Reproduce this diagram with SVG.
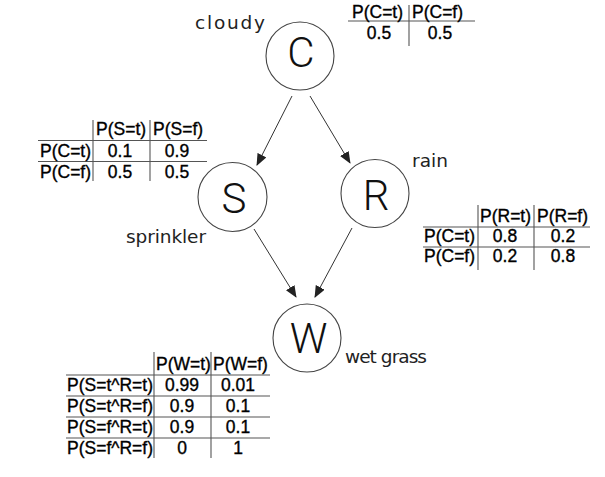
<svg xmlns="http://www.w3.org/2000/svg" width="605" height="477" viewBox="0 0 605 477">
<defs>
<marker id="ah" markerWidth="12" markerHeight="10" refX="11" refY="5" orient="auto" markerUnits="userSpaceOnUse">
<path d="M0,0 L12,5 L0,10 z" fill="#222"/>
</marker>
<style>
.node circle{fill:#fff;stroke:#444;stroke-width:1.1}
.letter{font-family:"Roboto","Liberation Sans",sans-serif;font-weight:300;font-size:42px;fill:#111;text-anchor:middle}
.lbl{font-family:"DejaVu Sans",sans-serif;font-size:18.5px;fill:#222}
.t{font-family:"Liberation Sans",Arial,sans-serif;font-size:17.5px;fill:#000;stroke:#000;stroke-width:0.35}
.v{font-family:"Liberation Sans",Arial,sans-serif;font-size:17.5px;fill:#000;stroke:#000;stroke-width:0.35;text-anchor:middle}
.g line{stroke:#555;stroke-width:1.1}
.edges line{stroke:#333;stroke-width:1;marker-end:url(#ah)}
</style>
</defs>
<rect width="605" height="477" fill="#fff"/>

<g class="edges" id="edges">
<line x1="292" y1="96" x2="257" y2="165"/>
<line x1="310" y1="96" x2="350" y2="163"/>
<line x1="254" y1="229" x2="296" y2="297"/>
<line x1="352" y1="228" x2="315" y2="297"/>
</g>

<g class="node" id="node-C">
<circle cx="300" cy="56" r="34"/>
<text class="letter" x="301" y="67">C</text>
<text class="lbl" x="195" y="29" textLength="70" lengthAdjust="spacing">cloudy</text>
</g>
<g class="node" id="node-S">
<circle cx="232.5" cy="197" r="34.5"/>
<text class="letter" x="234" y="213">S</text>
<text class="lbl" x="126" y="243" textLength="80" lengthAdjust="spacing">sprinkler</text>
</g>
<g class="node" id="node-R">
<circle cx="375" cy="193.5" r="34"/>
<text class="letter" x="376" y="210">R</text>
<text class="lbl" x="412" y="167" textLength="36" lengthAdjust="spacing">rain</text>
</g>
<g class="node" id="node-W">
<circle cx="307" cy="338" r="34"/>
<text class="letter" x="308.5" y="353">W</text>
<text class="lbl" x="345" y="363" textLength="82" lengthAdjust="spacing">wet grass</text>
</g>

<g class="g" id="table-C">
<line x1="348" y1="21" x2="475" y2="21"/>
<line x1="409" y1="5" x2="409" y2="46"/>
<text class="t" x="352" y="17.5">P(C=t)</text>
<text class="t" x="412" y="17.5">P(C=f)</text>
<text class="v" x="379" y="39">0.5</text>
<text class="v" x="440" y="39">0.5</text>
</g>

<g class="g" id="table-S">
<line x1="38" y1="140.5" x2="207" y2="140.5"/>
<line x1="38" y1="161.5" x2="207" y2="161.5"/>
<line x1="93" y1="120" x2="93" y2="181"/>
<line x1="150" y1="120" x2="150" y2="181"/>
<text class="t" x="96" y="135">P(S=t)</text>
<text class="t" x="153" y="135">P(S=f)</text>
<text class="t" x="40" y="157">P(C=t)</text>
<text class="t" x="40" y="178">P(C=f)</text>
<text class="v" x="120" y="157">0.1</text>
<text class="v" x="177" y="157">0.9</text>
<text class="v" x="120" y="178">0.5</text>
<text class="v" x="177" y="178">0.5</text>
</g>

<g class="g" id="table-R">
<line x1="423" y1="227" x2="590" y2="227"/>
<line x1="423" y1="247" x2="590" y2="247"/>
<line x1="478" y1="205" x2="478" y2="270"/>
<line x1="534" y1="205" x2="534" y2="270"/>
<text class="t" x="480" y="222">P(R=t)</text>
<text class="t" x="537" y="222">P(R=f)</text>
<text class="t" x="424" y="242">P(C=t)</text>
<text class="t" x="424" y="262">P(C=f)</text>
<text class="v" x="505" y="242">0.8</text>
<text class="v" x="563" y="242">0.2</text>
<text class="v" x="505" y="262">0.2</text>
<text class="v" x="563" y="262">0.8</text>
</g>

<g class="g" id="table-W">
<line x1="66" y1="375" x2="270" y2="375"/>
<line x1="66" y1="396" x2="270" y2="396"/>
<line x1="66" y1="417" x2="270" y2="417"/>
<line x1="66" y1="438" x2="270" y2="438"/>
<line x1="154" y1="352" x2="154" y2="458"/>
<line x1="211" y1="352" x2="211" y2="458"/>
<text class="t" x="156" y="370">P(W=t)</text>
<text class="t" x="213" y="370">P(W=f)</text>
<text class="t" x="67" y="391">P(S=t^R=t)</text>
<text class="t" x="67" y="412">P(S=t^R=f)</text>
<text class="t" x="67" y="433">P(S=f^R=t)</text>
<text class="t" x="67" y="454">P(S=f^R=f)</text>
<text class="v" x="182" y="391">0.99</text>
<text class="v" x="238" y="391">0.01</text>
<text class="v" x="182" y="412">0.9</text>
<text class="v" x="238" y="412">0.1</text>
<text class="v" x="182" y="433">0.9</text>
<text class="v" x="238" y="433">0.1</text>
<text class="v" x="182" y="454">0</text>
<text class="v" x="238" y="454">1</text>
</g>
</svg>
